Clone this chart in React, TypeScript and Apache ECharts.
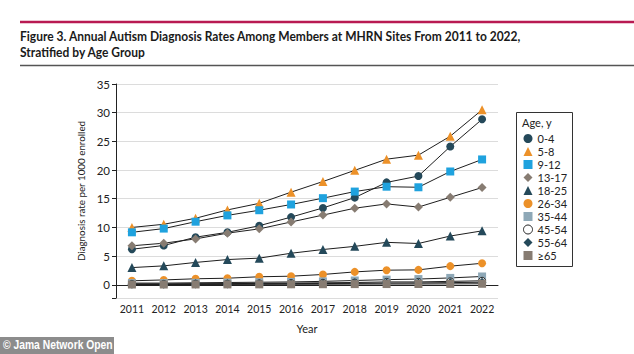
import React, { useEffect, useRef } from "react";
import * as echarts from "echarts";

const years = ["2011", "2012", "2013", "2014", "2015", "2016", "2017", "2018", "2019", "2020", "2021", "2022"];
const age0_4 = [6.2, 6.85, 8.3, 9.15, 10.3, 11.8, 13.4, 15.2, 17.85, 18.95, 24.1, 28.85];
const age5_8 = [10.0, 10.55, 11.6, 13.05, 14.2, 16.15, 18.0, 19.95, 21.9, 22.6, 25.9, 30.5];
const age9_12 = [9.15, 9.8, 11.0, 12.1, 13.0, 14.0, 15.1, 16.25, 17.1, 17.0, 19.75, 21.85];
const age13_17 = [6.8, 7.25, 8.0, 9.0, 9.75, 10.95, 12.15, 13.35, 14.1, 13.55, 15.25, 16.95];
const age18_25 = [3.0, 3.3, 3.9, 4.4, 4.65, 5.5, 6.15, 6.7, 7.4, 7.2, 8.5, 9.4];
const age26_34 = [0.7, 0.85, 1.05, 1.15, 1.4, 1.5, 1.8, 2.25, 2.55, 2.6, 3.25, 3.75];
const age35_44 = [0.3, 0.3, 0.35, 0.4, 0.45, 0.5, 0.6, 0.75, 0.9, 1.0, 1.2, 1.45];
const age45_54 = [0.15, 0.15, 0.2, 0.2, 0.25, 0.3, 0.35, 0.4, 0.5, 0.5, 0.6, 0.7];
const age55_64 = [0.1, 0.1, 0.12, 0.15, 0.18, 0.2, 0.22, 0.25, 0.3, 0.32, 0.38, 0.45];
const age65 = [0.05, 0.05, 0.06, 0.07, 0.08, 0.09, 0.1, 0.12, 0.13, 0.14, 0.16, 0.18];

const titleLine1 = "Figure 3. Annual Autism Diagnosis Rates Among Members at MHRN Sites From 2011 to 2022,";
const titleLine2 = "Stratified by Age Group";

const DARK = "#24495a";
const ORANGE = "#ec9129";
const BLUE = "#1fa2de";
const TAUPE = "#877c72";
const SLATE = "#8ea8b7";

const seriesDefs = [
  { name: "0-4", data: age0_4, symbol: "circle", size: 8, color: DARK },
  { name: "5-8", data: age5_8, symbol: "triangle", size: 9, color: ORANGE },
  { name: "9-12", data: age9_12, symbol: "rect", size: 8, color: BLUE },
  { name: "13-17", data: age13_17, symbol: "diamond", size: 9, color: TAUPE },
  { name: "18-25", data: age18_25, symbol: "triangle", size: 9, color: DARK },
  { name: "26-34", data: age26_34, symbol: "circle", size: 8, color: ORANGE },
  { name: "35-44", data: age35_44, symbol: "rect", size: 8, color: SLATE },
  { name: "45-54", data: age45_54, symbol: "circle", size: 7, color: "#ffffff", border: "#222" },
  { name: "55-64", data: age55_64, symbol: "diamond", size: 9, color: DARK },
  { name: "≥65", data: age65, symbol: "rect", size: 8, color: TAUPE },
];

const FONT = "Lato, 'Open Sans', sans-serif";
const TITLE_FONT = "Lato, 'Open Sans', sans-serif";

export default function App() {
  const ref = useRef<HTMLDivElement>(null);
  useEffect(() => {
    if (!ref.current) return;
    const chart = echarts.init(ref.current, undefined, { renderer: "svg" });
    const option: any = {
      animation: false,
      backgroundColor: "#ffffff",
      grid: { left: 116, right: 136, top: 84, bottom: 56, containLabel: false },
      xAxis: {
        type: "category",
        data: years,
        boundaryGap: true,
        axisLine: { lineStyle: { color: "#222", width: 1 } },
        axisTick: { alignWithLabel: true, length: 5, interval: 0, lineStyle: { color: "#222" } },
        axisLabel: { color: "#222", fontSize: 10.5, fontFamily: FONT, margin: 5, interval: 0 },
        name: "Year",
        nameLocation: "middle",
        nameGap: 25,
        nameTextStyle: { color: "#222", fontSize: 11, fontFamily: FONT },
      },
      yAxis: {
        type: "value",
        min: -2.3,
        max: 35,
        minInterval: 5,
        maxInterval: 5,
        axisLine: { show: true, lineStyle: { color: "#222", width: 1 } },
        axisTick: { show: true, length: 4, lineStyle: { color: "#222" } },
        axisLabel: {
          color: "#222",
          fontSize: 11.5,
          fontFamily: FONT,
          margin: 6,
          formatter: (v: number) => (v < 0 ? "" : String(v)),
        },
        splitLine: { show: true, lineStyle: { color: "#dcdcdc", width: 1 } },
        name: "Diagnosis rate per 1000 enrolled",
        nameLocation: "middle",
        nameGap: 20,
        nameTextStyle: { color: "#222", fontSize: 9.8, fontFamily: FONT },
      },
      legend: {
        orient: "vertical",
        left: 523,
        top: 132,
        itemWidth: 9,
        itemHeight: 9,
        itemGap: 0,
        padding: 0,
        textStyle: { color: "#222", fontSize: 11, fontFamily: FONT, lineHeight: 13 },
        data: seriesDefs.map((s) => ({
          name: s.name,
          icon: s.symbol,
          itemStyle: (s as any).border ? { color: "#fff", borderColor: "#222", borderWidth: 1 } : undefined,
        })),
      },
      graphic: [
        { type: "line", shape: { x1: 20, y1: 22, x2: 634, y2: 22 }, style: { stroke: "#b81a52", lineWidth: 2.5 } },
        { type: "line", shape: { x1: 20, y1: 65.5, x2: 634, y2: 65.5 }, style: { stroke: "#555", lineWidth: 1.5 } },
        {
          type: "text",
          x: 20,
          y: 29,
          scaleX: 0.89,
          style: { text: titleLine1, font: `bold 13.5px ${TITLE_FONT}`, fill: "#1a1a1a" },
        },
        {
          type: "text",
          x: 20,
          y: 45,
          scaleX: 0.89,
          style: { text: titleLine2, font: `bold 13.5px ${TITLE_FONT}`, fill: "#1a1a1a" },
        },
        {
          type: "rect",
          shape: { x: 516.5, y: 112.5, width: 56, height: 154 },
          style: { fill: "none", stroke: "#333", lineWidth: 1 },
        },
        {
          type: "text",
          x: 522,
          y: 117,
          style: { text: "Age, y", font: `11px ${FONT}`, fill: "#222" },
        },
        {
          type: "rect",
          shape: { x: 0, y: 337, width: 114, height: 17 },
          style: { fill: "#8c8c8c" },
        },
        {
          type: "text",
          x: 3,
          y: 339,
          scaleX: 0.86,
          style: { text: "© Jama Network Open", font: `bold 12px 'Liberation Sans', Arial, sans-serif`, fill: "#ffffff" },
        },
      ],
      series: seriesDefs.map((s) => ({
        name: s.name,
        type: "line",
        data: s.data,
        symbol: s.symbol,
        symbolSize: s.size,
        lineStyle: { color: "#1e1e1e", width: 1 },
        itemStyle: {
          color: s.color,
          borderColor: (s as any).border || s.color,
          borderWidth: (s as any).border ? 1 : 0,
        },
        emphasis: { disabled: true },
      })),
    };
    chart.setOption(option);
    return () => chart.dispose();
  }, []);
  return <div ref={ref} style={{ width: 634, height: 354, position: "absolute", left: 0, top: 0 }} />;
}
